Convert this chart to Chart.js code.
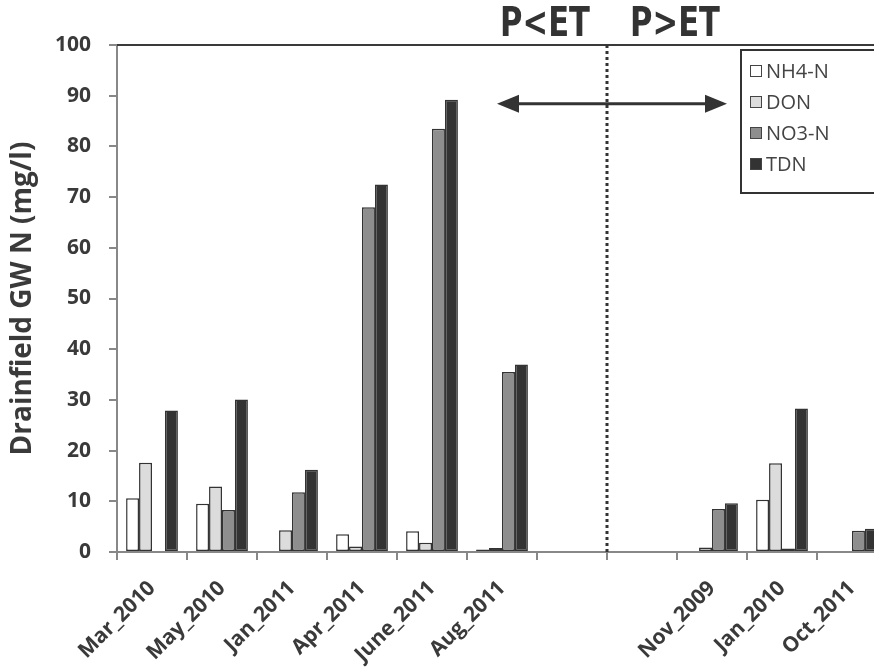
<!DOCTYPE html>
<html>
<head>
<meta charset="utf-8">
<script src="https://cdn.jsdelivr.net/npm/chart.js@4.4.1/dist/chart.umd.min.js"></script>
<style>
  html, body { margin: 0; padding: 0; background: #fff; overflow: hidden; }
  canvas { display: block; }
</style>
</head>
<body>
<canvas id="chart" width="900" height="671"></canvas>
<script>
// sampling dates (two blank slots separate the P<ET and P>ET groups)
const categories = ['Mar_2010', 'May_2010', 'Jan_2011', 'Apr_2011', 'June_2011', 'Aug_2011', '', '', 'Nov_2009', 'Jan_2010', 'Oct_2011'];
const nh4 = [10.6, 9.5, 0, 3.5, 4.1, 0.5, null, null, 0, 10.3, 0];
const don = [17.6, 12.9, 4.3, 1.1, 1.8, 0.8, null, null, 0.9, 17.5, 0.2];
const no3 = [0, 8.3, 11.8, 68, 83.5, 35.5, null, null, 8.5, 0.7, 4.2];
const tdn = [27.9, 30.1, 16.2, 72.5, 89.2, 37, null, null, 9.6, 28.3, 4.6];
const yTicks = [0, 10, 20, 30, 40, 50, 60, 70, 80, 90, 100];

const FONT = '"Open Sans", "DejaVu Sans", sans-serif';
const NARROW = '"DejaVu Sans Condensed", "DejaVu Sans", sans-serif';

// dotted divider, arrow, P<ET / P>ET labels, legend box
const overlay = {
  id: 'overlay',
  afterDraw(chart) {
    const ctx = chart.ctx;
    const area = chart.chartArea;
    const xs = chart.scales.x;
    const ys = chart.scales.y;
    const step = xs.getPixelForValue(1) - xs.getPixelForValue(0);
    ctx.save();

    // top border of plot
    ctx.strokeStyle = '#3a3a3a';
    ctx.lineWidth = 2;
    ctx.beginPath();
    ctx.moveTo(area.left, area.top);
    ctx.lineTo(area.right, area.top);
    ctx.stroke();

    // dotted divider between the two blank slots
    const divX = xs.getPixelForValue(6) + step / 2;
    ctx.strokeStyle = '#333';
    ctx.lineWidth = 3;
    ctx.setLineDash([3, 3]);
    ctx.beginPath();
    ctx.moveTo(divX, area.top);
    ctx.lineTo(divX, area.bottom);
    ctx.stroke();
    ctx.setLineDash([]);

    // double arrow
    const ay = ys.getPixelForValue(88.4);
    const x1 = xs.getPixelForValue(5) - 5;
    const x2 = xs.getPixelForValue(8) + 15;
    ctx.lineWidth = 3;
    ctx.beginPath();
    ctx.moveTo(x1 + 12, ay);
    ctx.lineTo(x2 - 12, ay);
    ctx.stroke();
    ctx.fillStyle = '#333';
    ctx.beginPath();
    ctx.moveTo(x1, ay);
    ctx.lineTo(x1 + 22, ay - 9);
    ctx.lineTo(x1 + 22, ay + 9);
    ctx.closePath();
    ctx.fill();
    ctx.beginPath();
    ctx.moveTo(x2, ay);
    ctx.lineTo(x2 - 22, ay - 9);
    ctx.lineTo(x2 - 22, ay + 9);
    ctx.closePath();
    ctx.fill();

    // P<ET / P>ET, drawn narrow
    ctx.font = 'bold 40px ' + NARROW;
    ctx.textAlign = 'center';
    ctx.textBaseline = 'alphabetic';
    ctx.fillStyle = '#333';
    [['P<ET', divX - 62], ['P>ET', divX + 68]].forEach(([t, cx]) => {
      ctx.save();
      ctx.translate(cx, 36);
      ctx.scale(0.85, 1);
      ctx.fillText(t, 0, 0);
      ctx.restore();
    });

    // legend
    const lx = 741, ly = 50, lh = 143;
    ctx.fillStyle = '#fff';
    ctx.fillRect(lx, ly, chart.width - lx, lh);
    ctx.strokeStyle = '#333';
    ctx.lineWidth = 2;
    ctx.strokeRect(lx, ly, chart.width - lx + 10, lh);
    ctx.font = '20px ' + FONT;
    ctx.textAlign = 'left';
    ctx.textBaseline = 'middle';
    chart.data.datasets.forEach((ds, i) => {
      const cy = ly + 21 + i * 31;
      ctx.fillStyle = ds.backgroundColor;
      ctx.fillRect(lx + 9, cy - 6, 12, 12);
      ctx.strokeStyle = '#444';
      ctx.lineWidth = 1;
      ctx.strokeRect(lx + 9.5, cy - 5.5, 11, 11);
      ctx.fillStyle = '#444';
      ctx.fillText(ds.label, lx + 25, cy + 1);
    });

    ctx.restore();
  }
};

const barStyle = { borderColor: '#333', borderWidth: 1.5, borderSkipped: false };

new Chart(document.getElementById('chart'), {
  type: 'bar',
  data: {
    labels: categories,
    datasets: [
      { label: 'NH4-N', data: nh4, backgroundColor: '#ffffff', ...barStyle },
      { label: 'DON', data: don, backgroundColor: '#dcdcdc', ...barStyle },
      { label: 'NO3-N', data: no3, backgroundColor: '#8e8e8e', ...barStyle },
      { label: 'TDN', data: tdn, backgroundColor: '#333333', ...barStyle }
    ]
  },
  options: {
    responsive: false,
    animation: false,
    layout: { padding: { top: 45, right: 13, left: 0, bottom: 0 } },
    datasets: { bar: { categoryPercentage: 0.74, barPercentage: 1.0 } },
    scales: {
      x: {
        grid: { drawOnChartArea: false, drawTicks: true, tickLength: 8, color: '#888', lineWidth: 2 },
        border: { display: true, color: '#888', width: 2 },
        ticks: {
          autoSkip: false, minRotation: 45, maxRotation: 45, padding: 16,
          color: '#3a3a3a', font: { family: FONT, size: 21, weight: 'bold' }
        },
        afterFit(scale) { scale.height = 119; }
      },
      y: {
        min: 0, max: 100,
        afterBuildTicks(scale) { scale.ticks = yTicks.map(v => ({ value: v })); },
        grid: { drawOnChartArea: false, drawTicks: true, tickLength: 8, color: '#888', lineWidth: 2 },
        border: { display: true, color: '#888', width: 2 },
        ticks: { color: '#3a3a3a', padding: 18, font: { family: FONT, size: 21, weight: 'bold' } },
        title: {
          display: true, text: 'Drainfield GW N (mg/l)', color: '#3a3a3a',
          font: { family: FONT, size: 28, weight: 'bold' }, padding: { top: 6, bottom: 6 }
        },
        afterFit(scale) { scale.width = 117; }
      }
    },
    plugins: {
      legend: { display: false },
      tooltip: { enabled: false }
    }
  },
  plugins: [overlay]
});
</script>
</body>
</html>
